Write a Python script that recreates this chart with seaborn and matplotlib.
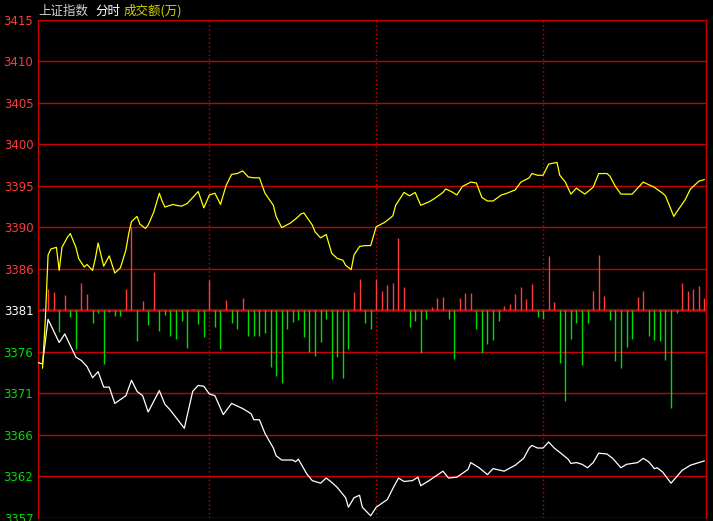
import numpy as np
import pandas as pd
import matplotlib
matplotlib.use("Agg")
import matplotlib.pyplot as plt
import seaborn as sns

# ---------------------------------------------------------
# DATA (minutes since 9:30, index points)
# ---------------------------------------------------------
white_minutes = [-2, 0, 2, 6, 8, 12, 14, 16, 18, 20, 22, 24, 26, 30, 32, 34, 36, 38, 42, 44,
                 46, 51, 54, 56, 58, 60, 62, 65, 68, 72, 75, 76, 78, 80, 83, 84, 86, 90, 91, 92,
                 95, 97, 100, 102, 104, 106, 109, 110, 112, 114, 115, 118, 120, 124, 126, 128, 130, 133, 135, 136,
                 139, 144, 146, 149, 153, 154, 157, 160, 162, 166, 170, 173, 175, 176, 178, 180, 182, 184, 186, 189,
                 190, 192, 194, 196, 198, 200, 203, 205, 208, 210, 214, 216, 218, 220, 221, 223, 226, 230, 233, 237,
                 238]
white_price = [3375.1, 3374.9, 3380.1, 3377.4, 3378.4, 3375.7, 3375.3, 3374.6, 3373.3, 3374.0,
               3372.2, 3372.2, 3370.3, 3371.2, 3373.0, 3371.7, 3371.2, 3369.3, 3371.8, 3370.2,
               3369.5, 3367.4, 3371.7, 3372.4, 3372.3, 3371.4, 3371.2, 3369.0, 3370.3, 3369.7,
               3369.1, 3368.4, 3368.4, 3366.8, 3365.1, 3364.2, 3363.7, 3363.7, 3363.5, 3363.8,
               3362.1, 3361.3, 3361.0, 3361.6, 3361.1, 3360.5, 3359.3, 3358.2, 3359.3, 3359.6,
               3358.2, 3357.2, 3358.2, 3359.1, 3360.4, 3361.6, 3361.2, 3361.3, 3361.7, 3360.7,
               3361.3, 3362.4, 3361.6, 3361.7, 3362.6, 3363.4, 3362.8, 3362.0, 3362.7, 3362.4,
               3363.1, 3363.9, 3365.1, 3365.4, 3365.1, 3365.1, 3365.8, 3365.1, 3364.6, 3363.8,
               3363.3, 3363.4, 3363.2, 3362.8, 3363.4, 3364.5, 3364.4, 3363.9, 3362.8, 3363.2,
               3363.4, 3363.9, 3363.5, 3362.7, 3362.8, 3362.3, 3361.0, 3362.5, 3363.1, 3363.5,
               3363.6]

yellow_minutes = [0, 1, 2, 3, 5, 6, 7, 9, 10, 12, 13, 15, 16, 18, 19, 20, 22, 24, 26, 28,
                  30, 31, 32, 34, 35, 37, 38, 40, 42, 43, 44, 47, 48, 50, 52, 54, 56, 58, 60, 62,
                  64, 66, 68, 70, 72, 74, 76, 78, 80, 83, 84, 86, 89, 91, 93, 94, 97, 98, 100, 102,
                  104, 106, 108, 109, 111, 112, 114, 116, 118, 120, 123, 125, 126, 127, 130, 132, 134, 136, 139, 141,
                  144, 145, 147, 149, 151, 154, 156, 158, 160, 162, 165, 167, 170, 172, 175, 176, 178, 180, 182, 185,
                  186, 188, 190, 192, 195, 198, 200, 203, 204, 206, 208, 212, 216, 220, 223, 224, 227, 228, 231, 233,
                  236, 238]
yellow_price = [3374.4, 3380.0, 3387.6, 3388.3, 3388.5, 3385.8, 3388.5, 3389.7, 3390.1, 3388.5,
                3387.2, 3386.2, 3386.5, 3385.8, 3387.2, 3389.0, 3386.3, 3387.5, 3385.5, 3386.1,
                3388.2, 3390.1, 3391.5, 3392.1, 3391.2, 3390.7, 3391.1, 3392.6, 3394.8, 3393.9,
                3393.2, 3393.5, 3393.4, 3393.3, 3393.6, 3394.3, 3395.0, 3393.1, 3394.6, 3394.8,
                3393.5, 3395.7, 3397.0, 3397.1, 3397.4, 3396.7, 3396.6, 3396.6, 3394.8, 3393.4,
                3392.1, 3390.8, 3391.3, 3391.8, 3392.4, 3392.5, 3391.1, 3390.3, 3389.6, 3390.0,
                3387.8, 3387.2, 3387.0, 3386.4, 3385.9, 3387.6, 3388.6, 3388.7, 3388.7, 3390.9,
                3391.4, 3391.9, 3392.2, 3393.4, 3394.9, 3394.5, 3394.9, 3393.4, 3393.8, 3394.2,
                3394.9, 3395.3, 3395.0, 3394.6, 3395.6, 3396.1, 3396.0, 3394.3, 3393.9, 3393.9,
                3394.6, 3394.8, 3395.2, 3396.1, 3396.6, 3397.1, 3396.9, 3396.9, 3398.2, 3398.4,
                3396.9, 3396.1, 3394.7, 3395.4, 3394.7, 3395.5, 3397.1, 3397.1, 3396.8, 3395.6,
                3394.7, 3394.7, 3396.1, 3395.5, 3394.8, 3394.5, 3392.1, 3392.6, 3394.0, 3395.3,
                3396.2, 3396.4]

# red / green strength bars, one every two minutes (0 .. 238)
bar_minutes = list(range(0, 240, 2))
bar_strength = [2, 21, 18, -22, 15, -7, -39, 27, 16, -13,
                -3, -54, -2, -6, -6, 21, 83, -31, 9, -15,
                38, -21, -5, -26, -29, -11, -38, 1, -14, -27,
                30, -17, -39, 10, -13, -19, 12, -26, -26, -26,
                -23, -57, -66, -73, -19, -12, -10, -27, -42, -46,
                -32, -9, -69, -47, -68, -39, 18, 31, -13, -19,
                31, 19, 25, 27, 72, 23, -17, -11, -43, -9,
                3, 12, 13, -9, -49, 12, 17, 17, -19, -43,
                -34, -30, -11, 4, 6, 16, 23, 11, 26, -7,
                -9, 54, 8, -53, -91, -29, -13, -55, -13, 19,
                55, 14, -10, -51, -58, -37, -29, 13, 19, -26,
                -30, -31, -50, -98, -3, 27, 19, 21, 24, 12]

y_low, y_high = 3357.0, 3415.0
y_tick_labels = ["3357", "3362", "3366", "3371", "3376", "3381", "3386",
                 "3390", "3395", "3400", "3405", "3410", "3415"]
prev_close_idx = 5          # the 3381 line
session_marks = [60, 120, 180]

# ---------------------------------------------------------
# STYLE
# ---------------------------------------------------------
sns.set_theme(style="dark", rc={"axes.facecolor": "black", "figure.facecolor": "black"})
plt.rcParams["font.family"] = ["Noto Sans CJK SC", "DejaVu Sans"]

GRID_RED = "#c80000"
UP_RED = "#ff3c3c"
DOWN_GREEN = "#00dc00"
BAR_SCALE = 58.0 / 497.0    # strength units -> index points

fig = plt.figure(figsize=(7.13, 5.21), dpi=100)
ax = fig.add_axes([37.5 / 713, 3.5 / 521, 668 / 713, 497.5 / 521])

yticks = np.linspace(y_low, y_high, len(y_tick_labels))
base = yticks[prev_close_idx]

# gridlines
for i, yv in enumerate(yticks):
    ax.axhline(yv, color=GRID_RED, lw=2.0 if i == prev_close_idx else 1.0, zorder=1)
for m in session_marks:
    ax.axvline(m, color=GRID_RED, lw=1.0, linestyle=(0, (1, 2)), zorder=1)

# bars
bars = pd.DataFrame({"minute": bar_minutes, "strength": bar_strength})
bars["top"] = base + bars["strength"] * BAR_SCALE
up = bars[bars["strength"] > 0]
dn = bars[bars["strength"] < 0]
ax.vlines(up["minute"], base, up["top"], color=UP_RED, lw=1.0, zorder=2)
ax.vlines(dn["minute"], base, dn["top"], color=DOWN_GREEN, lw=1.0, zorder=2)

# price lines
white = pd.DataFrame({"minute": white_minutes, "price": white_price})
yellow = pd.DataFrame({"minute": yellow_minutes, "price": yellow_price})
sns.lineplot(data=white, x="minute", y="price", color="white", lw=0.9, ax=ax, zorder=3)
sns.lineplot(data=yellow, x="minute", y="price", color="#ffff00", lw=0.9, ax=ax, zorder=4)

ax.set_xlim(-1.8, 238.4)
ax.set_ylim(y_low, y_high)
ax.set_xlabel("")
ax.set_ylabel("")
ax.set_xticks([])
ax.set_yticks(yticks)
ax.set_yticklabels(y_tick_labels, family="DejaVu Sans", fontsize=8.5)
ax.tick_params(axis="y", length=0, pad=3)
for i, lab in enumerate(ax.get_yticklabels()):
    if i > prev_close_idx:
        lab.set_color(UP_RED)
    elif i < prev_close_idx:
        lab.set_color(DOWN_GREEN)
    else:
        lab.set_color("white")
ax.grid(False)

for side in ["left", "right"]:
    ax.spines[side].set_visible(True)
    ax.spines[side].set_color(GRID_RED)
    ax.spines[side].set_linewidth(1.0)
for side in ["top", "bottom"]:
    ax.spines[side].set_visible(False)

# header
fig.text(38 / 713, 1 - 11 / 521, "上证指数", color="#d0d0d0", fontsize=9, va="center", ha="left")
fig.text(95 / 713, 1 - 11 / 521, "分时", color="white", fontsize=9, va="center", ha="left")
fig.text(124 / 713, 1 - 11 / 521, "成交额(万)", color="#d2d200", fontsize=9, va="center", ha="left")

fig.savefig("out.png", dpi=100, facecolor="black")
plt.close(fig)
